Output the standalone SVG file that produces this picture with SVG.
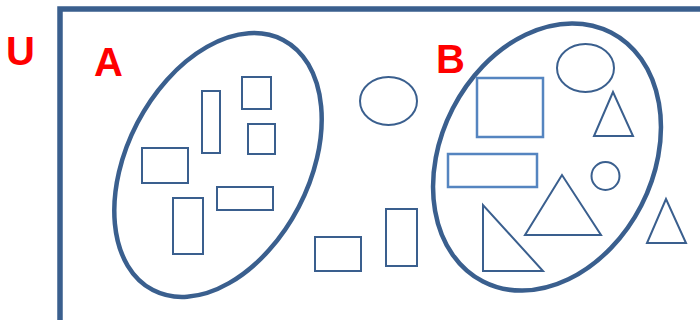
<svg xmlns="http://www.w3.org/2000/svg" width="700" height="320" viewBox="0 0 700 320">
<style>
.lbl{font-family:"Liberation Sans",Arial,sans-serif;font-weight:bold;font-size:40px;fill:#ff0000}
.set{fill:none;stroke:#3a5f8e;stroke-width:4.5}
.s{fill:none;stroke:#3a5f8e;stroke-width:2}
.l{fill:none;stroke:#5585c0;stroke-width:2.5}
</style>
<rect width="700" height="320" fill="#ffffff"/>
<g id="universe">
<path d="M60,322 V9 H702" fill="none" stroke="#3a5f8e" stroke-width="5.5"/>
<text class="lbl" x="6" y="65">U</text>
</g>
<g id="setA">
<ellipse class="set" cx="218" cy="165" rx="91" ry="141" transform="rotate(27.5 218 165)"/>
<text class="lbl" x="94" y="76">A</text>
</g>
<g id="setB">
<ellipse class="set" cx="547" cy="157" rx="106" ry="140" transform="rotate(27.2 547 157)"/>
<text class="lbl" x="436" y="73">B</text>
</g>
<g id="a-shapes">
<rect class="s" x="202" y="91" width="18" height="62"/>
<rect class="s" x="242" y="77" width="29" height="32"/>
<rect class="s" x="248" y="124" width="27" height="30"/>
<rect class="s" x="142" y="148" width="46" height="35"/>
<rect class="s" x="217" y="187" width="56" height="23"/>
<rect class="s" x="173" y="198" width="30" height="56"/>
</g>
<g id="b-shapes">
<rect class="l" x="477" y="78" width="66" height="59"/>
<rect class="l" x="448" y="154" width="89" height="33"/>
<ellipse class="s" cx="585.5" cy="68" rx="28.5" ry="24"/>
<polygon class="s" points="613,92 594,136 633,136"/>
<circle class="s" cx="605.5" cy="176" r="14"/>
<polygon class="s" points="562,175 525,235 601,235"/>
<polygon class="s" points="483,205 483,271 543,271"/>
</g>
<g id="outside-shapes">
<ellipse class="s" cx="388.5" cy="101" rx="28.5" ry="24"/>
<rect class="s" x="315" y="237" width="46" height="34"/>
<rect class="s" x="386" y="209" width="31" height="57"/>
<polygon class="s" points="666,199 647,243 686,243"/>
</g>
<g id="connectors"></g>
</svg>
